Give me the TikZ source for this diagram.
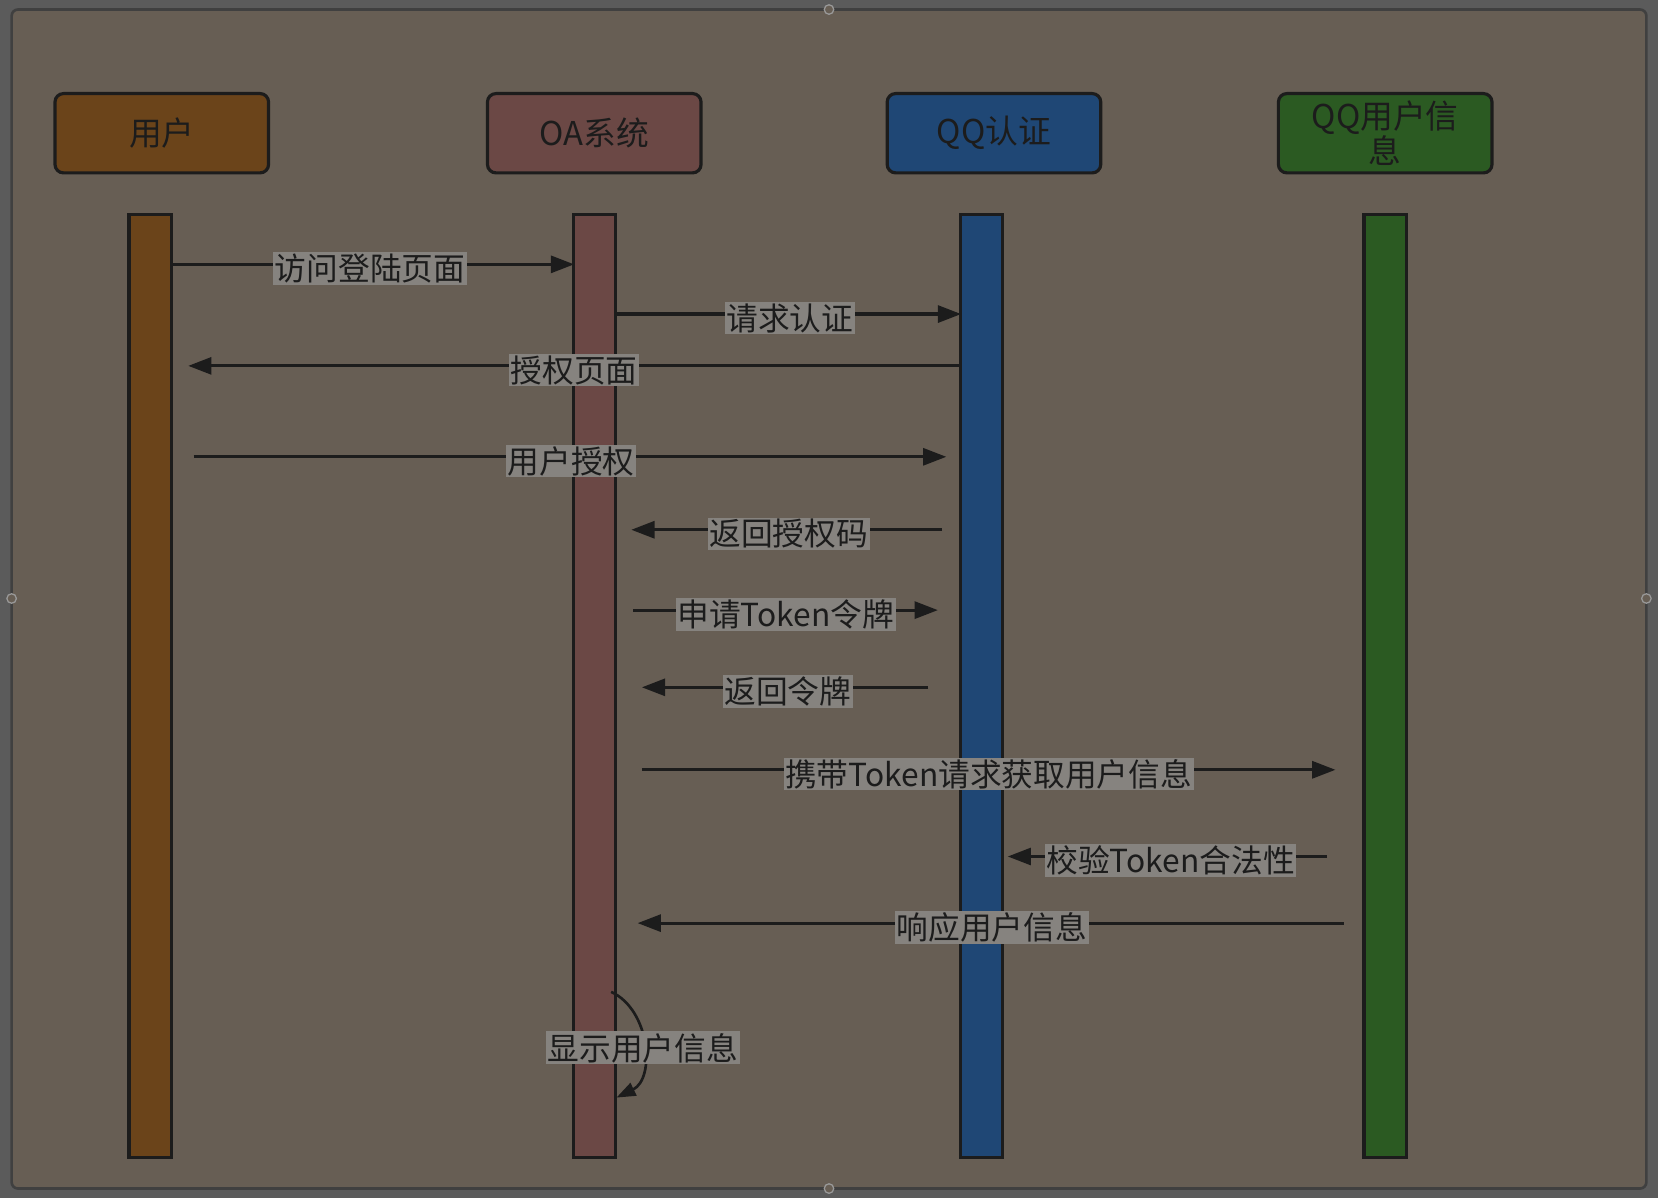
\documentclass[tikz,border=0pt]{standalone}
\usepackage{fontspec}
\setmainfont{Noto Sans CJK SC}
\usetikzlibrary{arrows.meta,positioning}
\definecolor{canvas}{HTML}{5B5B5B}
\definecolor{panel}{HTML}{675E54}
\definecolor{userc}{HTML}{6B441A}
\definecolor{oac}{HTML}{6B4845}
\definecolor{authc}{HTML}{1F4775}
\definecolor{infoc}{HTML}{2B5A22}
\definecolor{tagc}{HTML}{86837F}
\definecolor{ink}{HTML}{1C1C1C}

\begin{document}
\begin{tikzpicture}[x=1pt,y=-1pt,>={Triangle[length=22pt,width=16pt]}]
    \tikzstyle{actor}=[draw=ink, line width=3pt, rounded corners=8pt, minimum width=202pt, minimum height=75pt, inner sep=0pt, align=center, text=ink, font=\fontsize{31}{28}\selectfont]
    \tikzstyle{lifeline}=[draw=ink, line width=3pt, minimum width=40pt, minimum height=892pt, inner sep=0pt]
    \tikzstyle{msg}=[->, draw=ink, line width=3pt]
    \tikzstyle{tag}=[fill=tagc, text=ink, inner sep=1.5pt, font=\fontsize{30}{30}\selectfont]
    \tikzstyle{handle}=[circle, draw=black!40, fill=panel, line width=1.2pt, minimum size=9pt, inner sep=0pt]

    % Draw the canvas and the panel
    \fill[canvas] (0,0) rectangle (1568,1133);
    \useasboundingbox (0,0) rectangle (1568,1133);
    \draw[fill=panel, draw=black!75, line width=2.5pt, rounded corners=6pt] (11,9) rectangle (1557,1124);
    \foreach \name / \pos in {n/{784,9}, w/{11,566}, e/{1557,566}, s/{784,1124}}
        \node[handle] (h-\name) at (\pos) {};

    % Draw the actors and their lifelines
    \foreach \name / \x / \col / \txt in {U/153/userc/用户, O/562/oac/OA系统, A/940/authc/QQ认证, I/1310/infoc/{QQ用户信\\息}}
        \node[actor, fill=\col] (\name) at (\x,126) {\txt};
    \foreach \name / \x / \col in {U/142/userc, O/562/oac, A/928/authc, I/1310/infoc}
        \node[lifeline, fill=\col] (\name L) at (\x,649) {};

    % Draw the messages: number / from / to / height / label position / label
    \foreach \i / \xs / \xt / \y / \lx / \txt in {
        1/162/543/250/350/访问登陆页面,
        2/582/909/297/747/请求认证,
        3/909/178/346/543/授权页面,
        4/183/895/432/540/用户授权,
        5/891/597/501/746/返回授权码,
        6/599/887/577/743/申请Token令牌,
        7/878/607/650/745/返回令牌,
        8/607/1263/728/935/携带Token请求获取用户信息,
        9/1255/953/810/1107/校验Token合法性,
        10/1271/603/873/938/响应用户信息}
    {
        \coordinate (s\i) at (\xs,\y);
        \coordinate (t\i) at (\xt,\y);
        \draw[msg] (s\i) -- (t\i);
        \node[tag] (m\i) at (\lx,\y+4) {\txt};
    }

    % Self message on the OA lifeline
    \coordinate (s11) at (578,938);
    \coordinate (t11) at (583,1038);
    \draw[->, draw=ink, line width=2.5pt, >={Triangle[length=18pt,width=13pt]}] (s11) .. controls (615,955) and (620,1020) .. (t11);
    \node[tag] (m11) at (608,991) {显示用户信息};
\end{tikzpicture}
\end{document}
